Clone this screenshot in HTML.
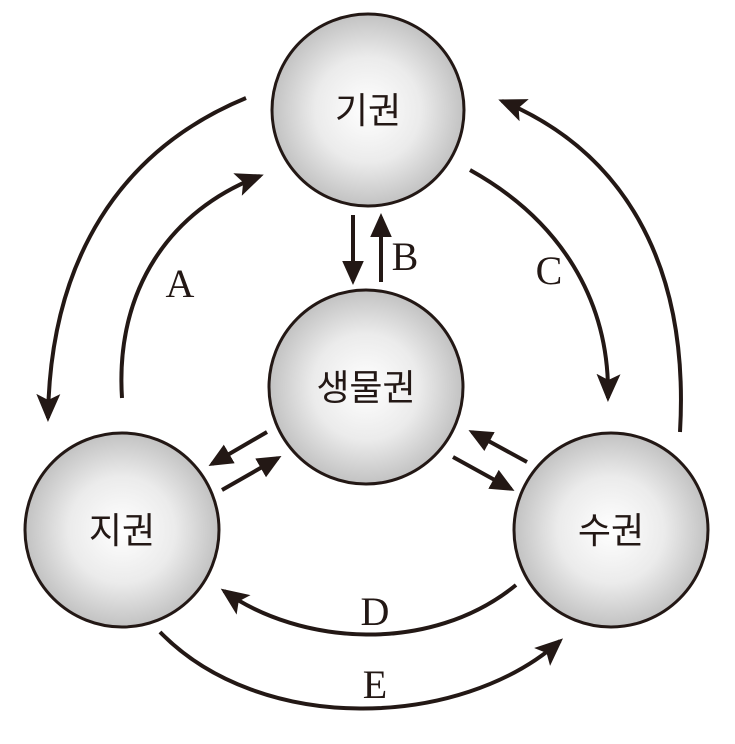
<!DOCTYPE html>
<html><head><meta charset="utf-8"><style>body{margin:0;background:#fff}</style></head><body>
<svg width="735" height="739" viewBox="0 0 735 739" xmlns="http://www.w3.org/2000/svg">
<defs>
<radialGradient id="g" cx="50%" cy="50%" r="50%"><stop offset="0" stop-color="#ffffff"/><stop offset="0.55" stop-color="#ebebeb"/><stop offset="1" stop-color="#c2c2c2"/></radialGradient>
<marker id="ah" markerWidth="8" markerHeight="8" refX="6" refY="4" orient="auto" markerUnits="strokeWidth"><path d="M0,1 L7,4 L0,7 L1.5,4 Z" fill="#231815"/></marker>
<marker id="bh" markerWidth="6" markerHeight="6" refX="5" refY="3" orient="auto" markerUnits="strokeWidth"><path d="M0,0.3 L6,3 L0,5.7 Z" fill="#231815"/></marker>
</defs>
<g fill="url(#g)" stroke="#231815" stroke-width="3">
<circle cx="368" cy="110" r="96"/>
<circle cx="366" cy="387" r="97"/>
<circle cx="122" cy="530" r="97"/>
<circle cx="611" cy="530" r="97"/>
</g>
<g fill="none" stroke="#231815" stroke-width="4">
<path d="M246,98 C120,150 50,260 48,418" marker-end="url(#ah)"/>
<path d="M122,398 C115,290 170,210 260,176" marker-end="url(#ah)"/>
<path d="M470,170 C560,220 610,300 608,398" marker-end="url(#ah)"/>
<path d="M680,432 C690,260 620,150 502,101" marker-end="url(#ah)"/>
<path d="M516,585 C430,655 300,645 224,591" marker-end="url(#ah)"/>
<path d="M160,632 C260,735 460,730 560,641" marker-end="url(#ah)"/>
<path d="M353,215 L353,281" marker-end="url(#bh)"/>
<path d="M381,282 L381,217" marker-end="url(#bh)"/>
<path d="M267,432 L212,464" marker-end="url(#bh)"/>
<path d="M222,490 L278,458" marker-end="url(#bh)"/>
<path d="M527,462 L472,432" marker-end="url(#bh)"/>
<path d="M453,457 L511,489" marker-end="url(#bh)"/>
</g>
<g font-family="'Liberation Sans','Noto Sans CJK KR',sans-serif" font-size="36" fill="#231815" text-anchor="middle">
<text x="368" y="123">기권</text>
<text x="366" y="400">생물권</text>
<text x="122" y="543">지권</text>
<text x="611" y="543">수권</text>
</g>
<g font-family="'Liberation Serif',serif" font-size="40" fill="#231815" text-anchor="middle">
<text x="180" y="297">A</text>
<text x="405" y="270">B</text>
<text x="549" y="284">C</text>
<text x="375" y="625">D</text>
<text x="375" y="698">E</text>
</g>
</svg>
</body></html>
